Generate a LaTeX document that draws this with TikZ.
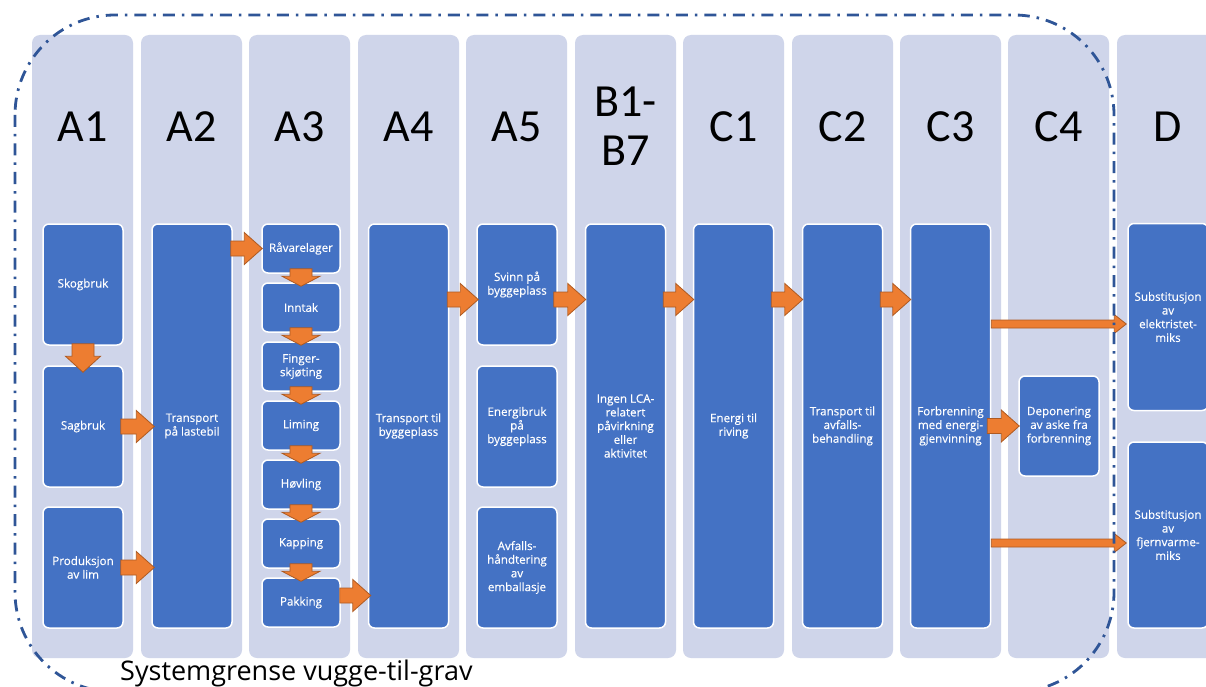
\documentclass[tikz,border=0pt]{standalone}
\usepackage{fontspec}
\setmainfont{Open Sans}
\newfontfamily\boxfont{Open Sans}[FakeBold=0.35]
\newfontfamily\hdrfont{Carlito}
\usetikzlibrary{calc}
\definecolor{colbg}{HTML}{CFD5EA}
\definecolor{boxblue}{HTML}{4472C4}
\definecolor{arrfill}{HTML}{ED7D31}
\definecolor{arrline}{HTML}{AE5A21}
\definecolor{bnd}{HTML}{2F5597}
\tikzset{
  colbox/.style={fill=colbg, rounded corners=8pt, minimum width=101pt, minimum height=623pt, inner sep=0pt},
  hdr/.style={font=\hdrfont\fontsize{46}{48}\selectfont, text=black, inner sep=0pt},
  pbox/.style={fill=boxblue, draw=white, line width=1.5pt, rounded corners=6pt, inner sep=0pt,
    text=white, align=center, font=\boxfont\fontsize{11.6}{13.7}\selectfont, minimum width=80pt},
  tallbox/.style={pbox, minimum height=404pt},
  thirdbox/.style={pbox, minimum height=121pt},
  smallbox/.style={pbox, minimum width=78pt, minimum height=49pt},
  barrow/.style={fill=arrfill, draw=arrline, line width=0.8pt, line join=miter},
  bound/.style={draw=bnd, line width=2.8pt, dash pattern=on 12pt off 7pt on 2.5pt off 7pt},
  lbl/.style={font=\fontsize{27}{30}\selectfont, text=black, inner sep=0pt},
}
% horizontal block arrow: from x of #1 to x of #2 at y of #3; shaft half #4, head half #5, head length #6
\newcommand\harr[6]{%
  \path[barrow] let \p1=(#1), \p2=(#2), \p3=(#3) in
    (\x1,{\y3+#4}) -- ({\x2-#6},{\y3+#4}) -- ({\x2-#6},{\y3+#5}) -- (\x2,\y3)
    -- ({\x2-#6},{\y3-#5}) -- ({\x2-#6},{\y3-#4}) -- (\x1,{\y3-#4}) -- cycle;}
\newcommand\harrS[3]{\harr{#1}{#2}{#3}{7.5pt}{16pt}{18pt}}
% vertical (downward) block arrow: at x of #1 from y of #1 to y of #2
\newcommand\varr[5]{%
  \path[barrow] let \p1=(#1), \p2=(#2) in
    ({\x1-#3},\y1) -- ({\x1-#3},{\y2+#5}) -- ({\x1-#4},{\y2+#5}) -- (\x1,\y2)
    -- ({\x1+#4},{\y2+#5}) -- ({\x1+#3},{\y2+#5}) -- ({\x1+#3},\y1) -- cycle;}
\newcommand\varrS[2]{\varr{#1}{#2}{11pt}{19pt}{10pt}}
\begin{document}
\begin{tikzpicture}[x=1pt,y=-1pt]
\useasboundingbox (0,0) rectangle (1206,687);
\clip (0,0) rectangle (1206,687);
\fill[white] (0,0) rectangle (1206,687);
% columns
\node[colbox] (cA1) at (82.5,346.5) {};
\node[colbox] (cA2) at (191.5,346.5) {};
\node[colbox] (cA3) at (299.5,346.5) {};
\node[colbox] (cA4) at (408.5,346.5) {};
\node[colbox] (cA5) at (516.5,346.5) {};
\node[colbox] (cB) at (625.5,346.5) {};
\node[colbox] (cC1) at (733.5,346.5) {};
\node[colbox] (cC2) at (842.5,346.5) {};
\node[colbox] (cC3) at (950.5,346.5) {};
\node[colbox] (cC4) at (1058.5,346.5) {};
\node[colbox] (cD) at (1167.5,346.5) {};
% headers
\node[hdr, anchor=base] (hA1) at (82.5,142) {A1};
\node[hdr, anchor=base] (hA2) at (191.5,142) {A2};
\node[hdr, anchor=base] (hA3) at (299.5,142) {A3};
\node[hdr, anchor=base] (hA4) at (408.5,142) {A4};
\node[hdr, anchor=base] (hA5) at (516.5,142) {A5};
\node[hdr, anchor=base] (hB1) at (625.5,117) {B1-};
\node[hdr, anchor=base] (hB2) at (625.5,165) {B7};
\node[hdr, anchor=base] (hC1) at (733.5,142) {C1};
\node[hdr, anchor=base] (hC2) at (842.5,142) {C2};
\node[hdr, anchor=base] (hC3) at (950.5,142) {C3};
\node[hdr, anchor=base] (hC4) at (1058.5,142) {C4};
\node[hdr, anchor=base] (hD) at (1167.5,142) {D};
% A1
\node[thirdbox] (skog) at (83,284.5) {Skogbruk};
\node[thirdbox] (sag) at (83,426.5) {Sagbruk};
\node[thirdbox] (lim) at (83,567.5) {Produksjon\\av lim};
% A2
\node[tallbox] (a2box) at (192,426) {Transport\\på lastebil};
% A3
\node[smallbox] (rav) at (301,248.5) {Råvarelager};
\node[smallbox] (inn) at (301,307.5) {Inntak};
\node[smallbox] (fin) at (301,366.5) {Finger-\\skjøting};
\node[smallbox] (lime) at (301,425.5) {Liming};
\node[smallbox] (hov) at (301,484.5) {Høvling};
\node[smallbox] (kap) at (301,543.5) {Kapping};
\node[smallbox] (pak) at (301,602.5) {Pakking};
% A4
\node[tallbox] (a4box) at (408.5,426) {Transport til\\byggeplass};
% A5
\node[thirdbox] (svinn) at (517,284.5) {Svinn på\\byggeplass};
\node[thirdbox] (ener) at (517,426.5) {Energibruk\\på\\byggeplass};
\node[thirdbox] (avf) at (517,567.5) {Avfalls-\\håndtering\\av\\emballasje};
% B
\node[tallbox] (bbox) at (625.5,426) {Ingen LCA-\\relatert\\påvirkning\\eller\\aktivitet};
% C
\node[tallbox] (c1box) at (733.5,426) {Energi til\\riving};
\node[tallbox] (c2box) at (842.5,426) {Transport til\\avfalls-\\behandling};
\node[tallbox] (c3box) at (950.5,426) {Forbrenning\\med energi-\\gjenvinning};
\node[pbox, minimum height=100pt] (dep) at (1059,426) {Deponering\\av aske fra\\forbrenning};
% D
\node[pbox, minimum height=187pt] (d1) at (1168,317) {Substitusjon\\av\\elektristet-\\miks};
\node[pbox, minimum height=186pt] (d2) at (1168,535) {Substitusjon\\av\\fjernvarme-\\miks};
% rows for arrows
\coordinate (row) at (0,299.5);
\coordinate (dy1) at (0,324);
\coordinate (dy2) at (0,543);
% arrows
\varr{[yshift=2pt]skog.south}{[yshift=-7pt]sag.north}{11pt}{17.5pt}{16pt}
\harrS{[xshift=-3pt]sag.east}{[xshift=3pt]a2box.west}{sag.east}
\harrS{[xshift=-3pt]lim.east}{[xshift=3pt]a2box.west}{lim.east}
\harrS{[xshift=-2pt]a2box.east}{[xshift=1pt]rav.west}{rav.west}
\varrS{[yshift=5pt]rav.south}{[yshift=-4pt]inn.north}
\varrS{[yshift=5pt]inn.south}{[yshift=-4pt]fin.north}
\varrS{[yshift=5pt]fin.south}{[yshift=-4pt]lime.north}
\varrS{[yshift=5pt]lime.south}{[yshift=-4pt]hov.north}
\varrS{[yshift=5pt]hov.south}{[yshift=-4pt]kap.north}
\varrS{[yshift=5pt]kap.south}{[yshift=-4pt]pak.north}
\harrS{[xshift=-1pt]pak.east}{[xshift=3pt]a4box.west}{[yshift=7pt]pak.east}
\harrS{[xshift=-2pt]a4box.east}{[xshift=2pt]svinn.west}{row}
\harrS{[xshift=-4pt]svinn.east}{[xshift=1pt]bbox.west}{row}
\harrS{[xshift=-3pt]bbox.east}{[xshift=1pt]c1box.west}{row}
\harrS{[xshift=-3pt]c1box.east}{[xshift=1pt]c2box.west}{row}
\harrS{[xshift=-3pt]c2box.east}{[xshift=1pt]c3box.west}{row}
\harrS{[xshift=-4pt]c3box.east}{[xshift=1pt]dep.west}{dep.west}
\harr{c3box.east}{[xshift=-1pt]d1.west}{dy1}{4pt}{9.5pt}{12pt}
\harr{c3box.east}{[xshift=-1pt]d2.west}{dy2}{4pt}{9.5pt}{12pt}
% system boundary
\draw[bound, rounded corners=100pt] (15,15) rectangle (1114,692);
\node[lbl, anchor=base west] (syslbl) at (120,680) {Systemgrense vugge-til-grav};
\end{tikzpicture}
\end{document}
